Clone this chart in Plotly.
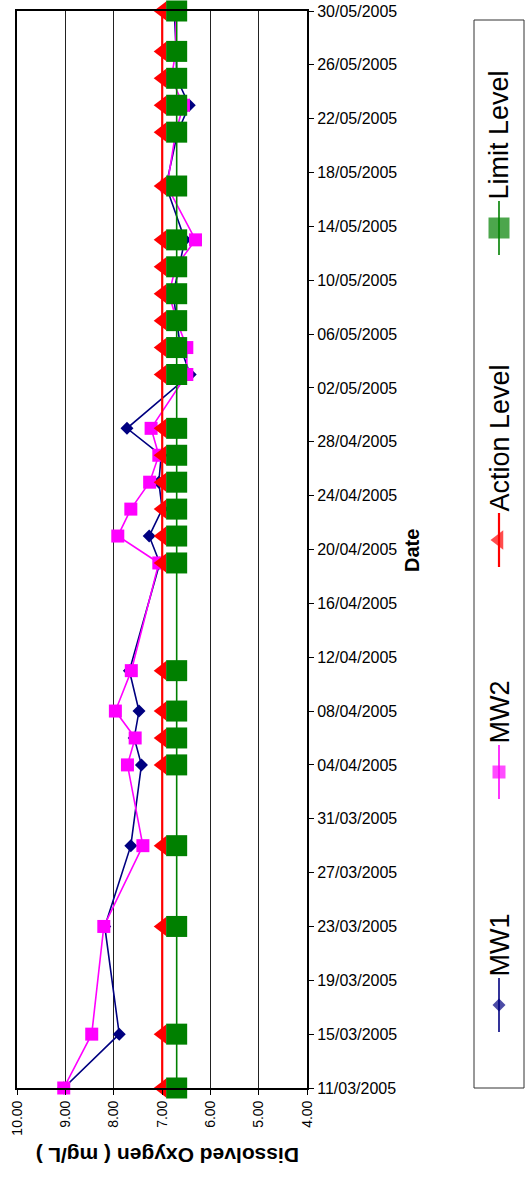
import plotly.graph_objects as go

# ---------------- data ----------------
dates = ['2005-03-11', '2005-03-15', '2005-03-23', '2005-03-29', '2005-04-04',
         '2005-04-06', '2005-04-08', '2005-04-11', '2005-04-19', '2005-04-21',
         '2005-04-23', '2005-04-25', '2005-04-27', '2005-04-29', '2005-05-03',
         '2005-05-05', '2005-05-07', '2005-05-09', '2005-05-11', '2005-05-13',
         '2005-05-17', '2005-05-21', '2005-05-23', '2005-05-25', '2005-05-27',
         '2005-05-30']
mw1 = [9.04, 7.89, 8.19, 7.65, 7.43, 7.58, 7.48, 7.68, 7.05, 7.27,
       7.00, 7.07, 7.02, 7.73, 6.42, 6.62, 6.70, 6.77, 6.65, 6.53,
       6.92, 6.68, 6.44, 6.70, 6.71, 6.75]
mw2 = [9.04, 8.46, 8.21, 7.40, 7.72, 7.56, 7.97, 7.64, 7.07, 7.92,
       7.65, 7.26, 7.07, 7.23, 6.49, 6.49, 6.70, 6.86, 6.72, 6.31,
       6.90, 6.72, 6.56, 6.81, 6.72, 6.72]
action_level = [7.0] * len(dates)
limit_level = [6.7] * len(dates)

value_ticks = [10, 9, 8, 7, 6, 5, 4]
value_tick_labels = ['10.00', '9.00', '8.00', '7.00', '6.00', '5.00', '4.00']

series_names = ['MW1', 'MW2', 'Action Level', 'Limit Level']
series_colors = ['#000080', '#FF00FF', '#FF0000', '#008000']
series_symbols = ['diamond', 'square', 'triangle-left', 'square']
series_sizes = [10, 13, 17, 21]
series_widths = [1.6, 1.6, 2.2, 1.6]
series_values = [mw1, mw2, action_level, limit_level]

# legend entry centres (pixel rows in the legend box, from top of page)
legend_centres = [1005, 772, 540, 228]

W, H = 527, 1179
FONT = 'Liberation Sans, Arial, sans-serif'

fig = go.Figure()

for name, col, sym, sz, lw, vals in zip(series_names, series_colors, series_symbols,
                                       series_sizes, series_widths, series_values):
    fig.add_trace(go.Scatter(
        x=vals, y=dates, mode='lines+markers', name=name,
        line=dict(color=col, width=lw),
        marker=dict(symbol=sym, size=sz, color=col, line=dict(width=0)),
        showlegend=False, cliponaxis=False))

# ---- manual rotated legend ----
LEG_TOP, LEG_BOT = 20, 1088
for name, col, sym, sz, lw, cy in zip(series_names, series_colors, series_symbols,
                                      series_sizes, series_widths, legend_centres):
    yc = H - cy
    fig.add_trace(go.Scatter(
        x=[0.5, 0.5, 0.5], y=[yc - 27, yc, yc + 27], mode='lines+markers',
        line=dict(color=col, width=lw),
        marker=dict(symbol=sym, size=[0, sz, 0], color=col, line=dict(width=0)),
        xaxis='x2', yaxis='y2', showlegend=False, hoverinfo='skip'))
    fig.add_annotation(
        x=499 / W, y=(yc + 26) / H, xref='paper', yref='paper',
        text=name, showarrow=False, textangle=-90,
        xanchor='center', yanchor='bottom',
        font=dict(family=FONT, size=27, color='black'))

fig.add_shape(type='rect', xref='paper', yref='paper',
              x0=474 / W, x1=524 / W, y0=(H - LEG_BOT) / H, y1=(H - LEG_TOP) / H,
              line=dict(color='#333333', width=1), fillcolor='rgba(0,0,0,0)')

# ---- titles ----
fig.add_annotation(x=168 / W, y=(H - 1156) / H, xref='paper', yref='paper',
                   text='<b>Dissolved Oxygen ( mg/L )</b>', showarrow=False,
                   textangle=180, xanchor='center', yanchor='middle',
                   font=dict(family=FONT, size=21, color='black'))
fig.add_annotation(x=412 / W, y=(H - 551) / H, xref='paper', yref='paper',
                   text='<b>Date</b>', showarrow=False,
                   textangle=-90, xanchor='center', yanchor='middle',
                   font=dict(family=FONT, size=20, color='black'))

fig.update_layout(
    width=W, height=H,
    margin=dict(l=0, r=0, t=0, b=0),
    paper_bgcolor='white', plot_bgcolor='white',
    xaxis=dict(
        domain=[17.4 / W, 307 / W], range=[10, 4], autorange=False,
        tickvals=value_ticks, ticktext=value_tick_labels, tickangle=-90,
        ticks='outside', ticklen=5, tickcolor='black', tickwidth=1,
        showline=True, linecolor='black', linewidth=2, mirror=True,
        showgrid=True, gridcolor='#222222', gridwidth=1, zeroline=False,
        tickfont=dict(family=FONT, size=14, color='black'), automargin=False),
    yaxis=dict(
        domain=[(H - 1088) / H, (H - 11) / H], type='date',
        range=['2005-03-11', '2005-05-30'], autorange=False,
        side='right', tick0='2005-03-11', dtick=4 * 86400000,
        tickformat='%d/%m/%Y', ticks='outside', ticklen=5, tickcolor='black',
        showline=True, linecolor='black', linewidth=2, mirror=True,
        showgrid=False, zeroline=False,
        tickfont=dict(family=FONT, size=16, color='black'), automargin=False),
    xaxis2=dict(domain=[474 / W, 524 / W], range=[0, 1], visible=False,
                anchor='y2', fixedrange=True),
    yaxis2=dict(domain=[(H - LEG_BOT) / H, (H - LEG_TOP) / H],
                range=[H - LEG_BOT, H - LEG_TOP], visible=False,
                anchor='x2', fixedrange=True),
    showlegend=False,
)

fig.write_html('out.html')
